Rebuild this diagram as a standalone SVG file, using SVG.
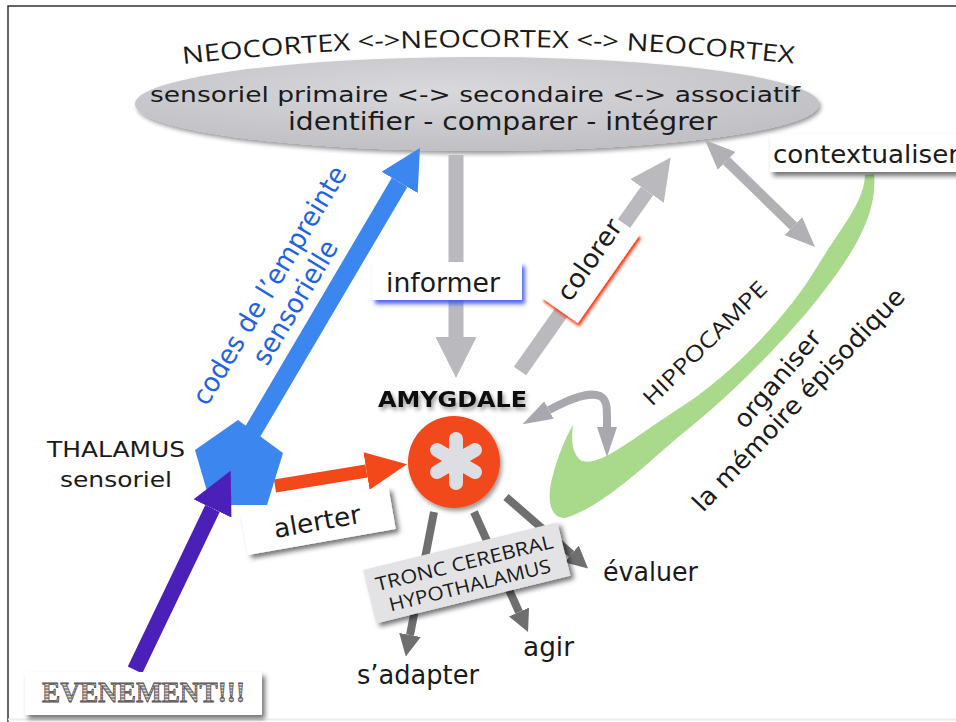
<svg xmlns="http://www.w3.org/2000/svg" width="956" height="722" viewBox="0 0 956 722">
<defs>
<style>
.c{font-family:"DejaVu Sans","Open Sans",sans-serif;fill:#1a1a1a}
.g{font-family:"Open Sans","Lato",sans-serif;fill:#1a1a1a}
.box{fill:#ffffff}
</style>
<radialGradient id="ell" cx="0.45" cy="0.35" r="0.7">
<stop offset="0" stop-color="#d9d9dd"/>
<stop offset="1" stop-color="#bdbdc2"/>
</radialGradient>
<filter id="sh" x="-20%" y="-30%" width="140%" height="170%">
<feDropShadow dx="3" dy="4" stdDeviation="2.5" flood-color="#000" flood-opacity="0.55"/>
</filter>
<filter id="shs" x="-20%" y="-30%" width="140%" height="170%">
<feDropShadow dx="2" dy="3" stdDeviation="2" flood-color="#000" flood-opacity="0.4"/>
</filter>
<filter id="shBlue" x="-20%" y="-30%" width="140%" height="170%">
<feDropShadow dx="3" dy="4" stdDeviation="2" flood-color="#3a55f0" flood-opacity="0.9"/>
</filter>
<filter id="shRed" x="-20%" y="-30%" width="140%" height="170%">
<feDropShadow dx="-2" dy="3" stdDeviation="1.5" flood-color="#ff2a00" flood-opacity="0.95"/>
</filter>
<pattern id="stripes" width="4" height="3" patternUnits="userSpaceOnUse">
<rect width="4" height="3" fill="#8a8a8a"/>
<rect width="4" height="1.2" fill="#d8d8d8"/>
</pattern>
<marker id="mBlue" viewBox="0 0 10 10" refX="0" refY="5" markerUnits="userSpaceOnUse" markerWidth="40" markerHeight="42" preserveAspectRatio="none" orient="auto"><path d="M0,0 L10,5 L0,10 z" fill="#3b86ef"/></marker>
<marker id="mGray" viewBox="0 0 10 10" refX="0" refY="5" markerUnits="userSpaceOnUse" markerWidth="41" markerHeight="41" preserveAspectRatio="none" orient="auto"><path d="M0,0 L10,5 L0,10 z" fill="#b9b9be"/></marker>
<marker id="mRed" viewBox="0 0 10 10" refX="0" refY="5" markerUnits="userSpaceOnUse" markerWidth="41" markerHeight="38" preserveAspectRatio="none" orient="auto"><path d="M0,0 L10,5 L0,10 z" fill="#f2481a"/></marker>
<marker id="mPurple" viewBox="0 0 10 10" refX="0" refY="5" markerUnits="userSpaceOnUse" markerWidth="42" markerHeight="42" preserveAspectRatio="none" orient="auto"><path d="M0,0 L10,5 L0,10 z" fill="#4a20b8"/></marker>
<marker id="mDark" viewBox="0 0 10 10" refX="0" refY="5" markerUnits="userSpaceOnUse" markerWidth="22" markerHeight="22" preserveAspectRatio="none" orient="auto"><path d="M0,0 L10,5 L0,10 z" fill="#6f6f6f"/></marker>
<marker id="mSm" viewBox="0 0 10 10" refX="0" refY="5" markerUnits="userSpaceOnUse" markerWidth="30" markerHeight="25" preserveAspectRatio="none" orient="auto-start-reverse"><path d="M0,0 L10,5 L0,10 z" fill="#b0b0b5"/></marker>
<marker id="mSm2" viewBox="0 0 10 10" refX="0" refY="5" markerUnits="userSpaceOnUse" markerWidth="30" markerHeight="20" preserveAspectRatio="none" orient="auto-start-reverse"><path d="M0,0 L10,5 L0,10 z" fill="#a8a8ae"/></marker>
</defs>

<rect width="956" height="722" fill="#ffffff"/>
<path d="M8,722 L8,6 L956,6" fill="none" stroke="#333" stroke-width="1.5"/>
<line x1="8" y1="719.5" x2="956" y2="719.5" stroke="#ececec" stroke-width="2"/>

<!-- NEOCORTEX -->
<g id="neocortex">
<path id="arcT" d="M183,64 Q489,30 797,64" fill="none"/>
<text class="g" font-size="24"><textPath href="#arcT" textLength="612" lengthAdjust="spacingAndGlyphs">NEOCORTEX &lt;-&gt;NEOCORTEX &lt;-&gt; NEOCORTEX</textPath></text>
<ellipse cx="477" cy="104" rx="342" ry="47" fill="url(#ell)" filter="url(#shs)"/>
<text class="c" x="150" y="102" font-size="22" textLength="650" lengthAdjust="spacingAndGlyphs">sensoriel primaire  &lt;-&gt; secondaire  &lt;-&gt; associatif</text>
<text class="c" x="288" y="130" font-size="24" textLength="429" lengthAdjust="spacingAndGlyphs">identifier - comparer - intégrer</text>
</g>

<!-- hippocampe -->
<g id="hippocampe">
<path d="M865,175 L874,174 C878,215 852,255 820,296 C787,338 732,395 677,438 C640,470 600,508 565,518 C548,518 547,495 553,475 C558,455 566,437 573,425 C571,440 572,455 582,461 C600,466 625,444 675,411 C730,377 787,317 817,267 C841,227 864,203 865,175 Z" fill="#a9d98b"/>
<text class="g" font-size="22" transform="translate(652,407) rotate(-45)" textLength="165" lengthAdjust="spacingAndGlyphs">HIPPOCAMPE</text>
<text class="c" font-size="25" transform="translate(745,430) rotate(-49.6)" textLength="120" lengthAdjust="spacingAndGlyphs">organiser</text>
<text class="c" font-size="25" transform="translate(703,513) rotate(-46.6)" textLength="296" lengthAdjust="spacingAndGlyphs">la mémoire épisodique</text>
</g>

<!-- connectors -->
<g id="connectors" fill="none">
<line x1="456" y1="155" x2="456" y2="337" stroke="#b9b9be" stroke-width="15" marker-end="url(#mGray)"/>
<line x1="520" y1="371" x2="647" y2="191" stroke="#b9b9be" stroke-width="15" marker-end="url(#mGray)"/>
<line x1="726.5" y1="160.9" x2="793.5" y2="226.1" stroke="#b0b0b5" stroke-width="10" marker-start="url(#mSm)" marker-end="url(#mSm)"/>
<path d="M549,410 C575,396 590,392 600,396 C608,400 607,410 607,427" stroke="#a8a8ae" stroke-width="8" marker-start="url(#mSm2)" marker-end="url(#mSm2)"/>
<line x1="236" y1="460" x2="399.6" y2="182.4" stroke="#3b86ef" stroke-width="18" marker-end="url(#mBlue)"/>
<line x1="275" y1="486" x2="366.5" y2="471" stroke="#f2481a" stroke-width="13" marker-end="url(#mRed)"/>
<line x1="434" y1="512" x2="410" y2="635" stroke="#6f6f6f" stroke-width="8" marker-end="url(#mDark)"/>
<line x1="474" y1="512" x2="519" y2="612" stroke="#6f6f6f" stroke-width="8" marker-end="url(#mDark)"/>
<line x1="506" y1="497" x2="571.5" y2="554" stroke="#6f6f6f" stroke-width="8" marker-end="url(#mDark)"/>
</g>

<!-- blue label -->
<g id="codes">
<text font-family="DejaVu Sans, sans-serif" fill="#1f63e0" font-size="27" transform="translate(207,407) rotate(-59)" textLength="273" lengthAdjust="spacingAndGlyphs">codes de l’empreinte</text>
<text font-family="DejaVu Sans, sans-serif" fill="#1f63e0" font-size="27" transform="translate(267,367) rotate(-59)" textLength="140" lengthAdjust="spacingAndGlyphs">sensorielle</text>
</g>

<!-- thalamus -->
<g id="thalamus">
<polygon points="238,420 283,453 267,505 211,505 195,450" fill="#3b86ef"/>
<text font-family="DejaVu Sans, sans-serif" fill="#1a1a1a" x="47" y="457" font-size="21" textLength="138" lengthAdjust="spacingAndGlyphs">THALAMUS</text>
<text font-family="DejaVu Sans, sans-serif" fill="#1a1a1a" x="60" y="487" font-size="22" textLength="112" lengthAdjust="spacingAndGlyphs">sensoriel</text>
</g>

<!-- purple arrow on top of thalamus -->
<g id="evenement-arrow">
<line x1="135" y1="670" x2="212.5" y2="508.5" stroke="#4a20b8" stroke-width="16" marker-end="url(#mPurple)"/>
</g>

<!-- evenement -->
<g id="evenement">
<rect x="25" y="672" width="237" height="43" class="box" filter="url(#sh)"/>
<text x="42" y="702" font-family="Liberation Serif, serif" font-weight="bold" font-size="30" fill="url(#stripes)" stroke="#4a4a4a" stroke-width="0.8" textLength="203" lengthAdjust="spacingAndGlyphs">EVENEMENT!!!</text>
</g>

<!-- amygdale -->
<g id="amygdale">
<text font-family="DejaVu Sans, sans-serif" font-weight="bold" x="378" y="407" font-size="21" fill="#111" filter="url(#shs)" textLength="149" lengthAdjust="spacingAndGlyphs">AMYGDALE</text>
<circle cx="454" cy="462" r="46" fill="#f2481a" filter="url(#shs)"/>
<g stroke="#dddee3" stroke-width="14" stroke-linecap="round">
<line x1="456" y1="461" x2="456" y2="439"/>
<line x1="456" y1="461" x2="456" y2="483"/>
<line x1="456" y1="461" x2="475" y2="450"/>
<line x1="456" y1="461" x2="437" y2="450"/>
<line x1="456" y1="461" x2="475" y2="472"/>
<line x1="456" y1="461" x2="437" y2="472"/>
</g>
</g>

<!-- informer -->
<g id="informer">
<rect x="372" y="262" width="150" height="38" class="box" filter="url(#shBlue)"/>
<text class="c" x="386" y="292" font-size="26" textLength="114" lengthAdjust="spacingAndGlyphs">informer</text>
</g>

<!-- colorer -->
<g id="colorer" transform="translate(570,303) rotate(-55)">
<rect x="-12" y="-26" width="108" height="44" class="box" filter="url(#shRed)"/>
<text class="c" x="0" y="0" font-size="26" textLength="93" lengthAdjust="spacingAndGlyphs">colorer</text>
</g>

<!-- alerter -->
<g id="alerter" transform="translate(248,555) rotate(-10)">
<rect x="0" y="-42" width="150" height="42" class="box" filter="url(#sh)"/>
<text class="c" x="30" y="-12" font-size="26" textLength="88" lengthAdjust="spacingAndGlyphs">alerter</text>
</g>

<!-- contextualiser -->
<g id="contextualiser">
<rect x="770" y="134" width="190" height="38" class="box" filter="url(#sh)"/>
<text class="c" x="773" y="163" font-size="25" textLength="186" lengthAdjust="spacingAndGlyphs">contextualiser</text>
</g>

<!-- tronc cerebral -->
<g id="tronc" transform="translate(363,570) rotate(-13.8)">
<rect x="0" y="0" width="200" height="55" fill="#e3e3e6" filter="url(#sh)"/>
<text class="g" x="100" y="24" font-size="19" text-anchor="middle" fill="#333" textLength="182" lengthAdjust="spacingAndGlyphs">TRONC CEREBRAL</text>
<text class="g" x="100" y="47" font-size="19" text-anchor="middle" fill="#333" textLength="166" lengthAdjust="spacingAndGlyphs">HYPOTHALAMUS</text>
</g>

<!-- outputs -->
<g id="evaluer"><text class="c" x="603" y="581" font-size="26" textLength="95" lengthAdjust="spacingAndGlyphs">évaluer</text></g>
<g id="agir"><text class="c" x="523" y="656" font-size="26" textLength="51" lengthAdjust="spacingAndGlyphs">agir</text></g>
<g id="sadapter"><text class="c" x="357" y="684" font-size="26" textLength="122" lengthAdjust="spacingAndGlyphs">s’adapter</text></g>
</svg>
